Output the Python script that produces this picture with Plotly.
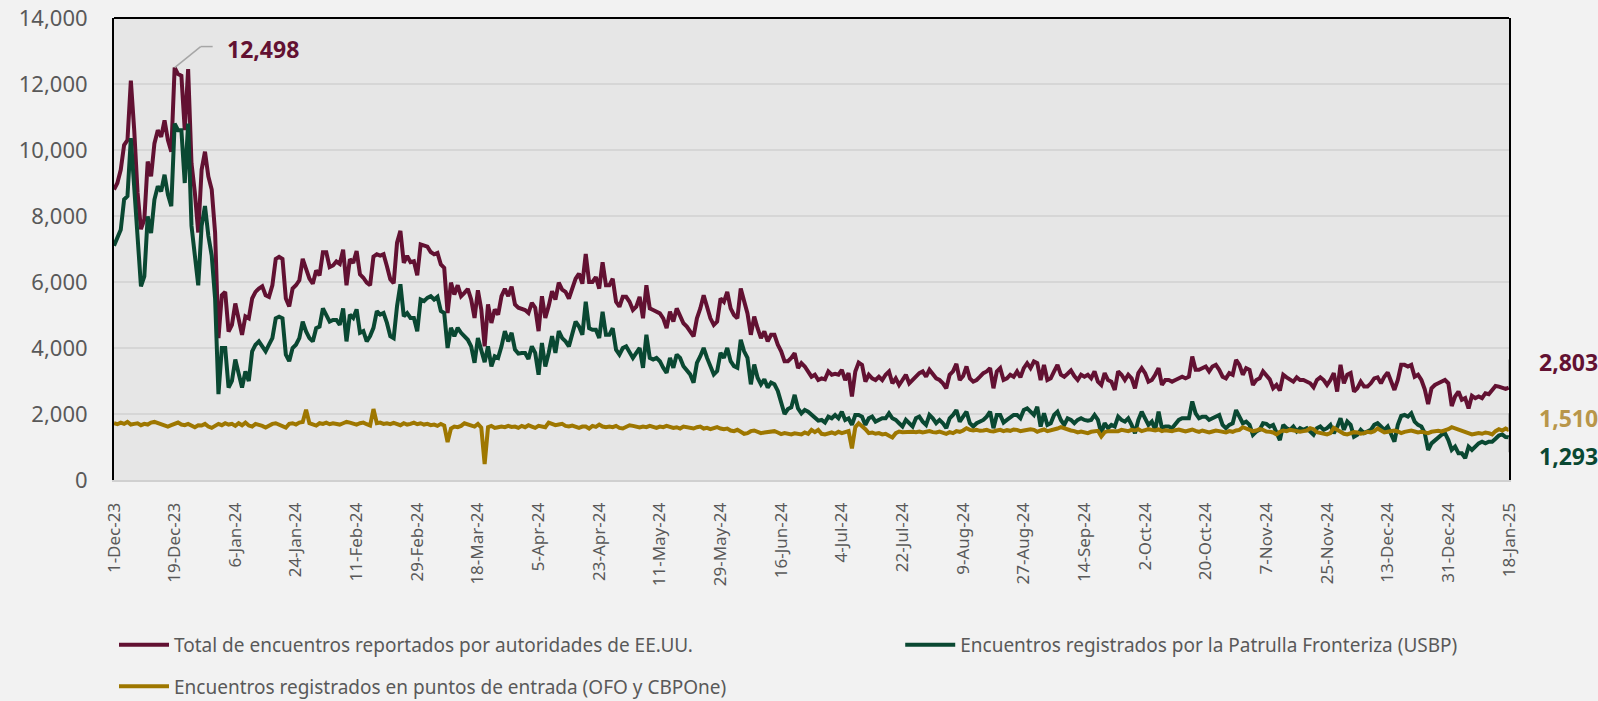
import pandas as pd
import plotly.graph_objects as go

START_DATE = "2023-12-01"

# Total de encuentros (daily, 1-Dec-23 .. 18-Jan-25)
total = [
    8800, 9000, 9400, 10150, 10300, 12100, 10600, 8700, 7600, 7900, 9650, 9200, 10200, 10600, 10400, 10900, 10300, 9950, 12498, 12300, 12250, 10600, 12450, 9600, 8700,
    7500, 9400, 9950, 9200, 8800, 7500, 4300, 5600, 5700, 4500, 4700, 5350, 4800, 4400, 4960, 4900, 5500, 5700, 5800, 5870, 5600, 5550, 5900, 6700, 6760, 6700,
    5500, 5260, 5800, 5900, 6050, 6700, 6400, 6100, 5950, 6350, 6200, 6900, 6900, 6450, 6500, 6620, 6550, 6980, 5900, 6690, 6580, 6940, 6230, 6130, 5980, 5900,
    6770, 6840, 6800, 6840, 6480, 6080, 5960, 7190, 7550, 6580, 6790, 6600, 6630, 6200, 7140, 7090, 7070, 6910, 6840, 6880, 6530, 6430, 5060, 5980, 5620, 5900,
    5570, 5670, 5790, 5470, 4910, 5750, 5170, 4050, 5320, 4760, 5170, 5010, 5570, 5790, 5570, 5860, 5320, 5220, 5170, 5150, 5060, 5370, 5220, 4510, 5570,
    4910, 5270, 5720, 5470, 5980, 5770, 5700, 5500, 5800, 6100, 6250, 5950, 6850, 6000, 6000, 6150, 5800, 6600, 5900, 5900, 6100, 5400, 5250, 5550, 5550, 5400,
    5150, 5250, 5550, 4900, 5900, 5200, 5150, 5100, 5050, 4900, 4600, 5100, 4800, 5200, 5000, 4750, 4650, 4500, 4350, 4900, 5200, 5600, 5200, 4900, 4700,
    4800, 5500, 5400, 5700, 5200, 5000, 4900, 5800, 5400, 5050, 4400, 4950, 4600, 4300, 4500, 4200, 4400, 4400, 4100, 3900, 3600, 3600, 3700,
    3840, 3390, 3540, 3440, 3290, 3130, 3190, 3030, 3080, 3050, 3290, 3190, 3220, 3190, 3340, 3030, 3240, 2530, 3290, 3560, 3490, 2980, 3190, 3080, 3030,
    3130, 3030, 3190, 3290, 2930, 3080, 2880, 3030, 3190, 2930, 3030, 3130, 3240, 3290, 3130, 3340, 3190, 3080, 3030, 2930, 2780, 3190, 3290, 3520, 3030,
    3150, 3440, 3080, 2980, 3030, 3130, 3240, 3290, 3390, 2780, 3290, 3390, 3030, 3080, 3190, 3130, 3290, 3110, 3390,
    3540, 3390, 3590, 3540, 3030, 3490, 3030, 3080, 3290, 3490, 3190, 3130, 3220, 3320, 3150, 3030, 3190, 3130, 3190, 3080,
    3290, 2980, 2880, 3240, 3030, 2980, 2730, 3290, 3190, 3030, 3190, 3080, 2780, 3240, 3390, 3240, 2980, 3030, 3190, 3390,
    2880, 3030, 3030, 2980, 3030, 3080, 3130, 3080, 3130, 3740, 3340, 3340, 3390, 3440, 3290, 3440, 3490, 3340, 3130, 3080,
    3240, 3190, 3640, 3490, 3190, 3390, 3340, 2880, 3030, 3080, 3290,
    3190, 3050, 2780, 2880, 2710, 3190, 3110, 3030, 2980, 3110, 3030, 3030, 2980, 2930, 2810, 3030, 3110, 3030, 2880, 3030,
    3240, 2680, 3490, 2930, 3190, 3240, 2680, 2780, 2980, 2830, 2830, 2930, 3080, 3110, 2930, 3130, 3260, 3030, 2730, 3030,
    3490, 3490, 3440, 3490, 3130, 3190, 3030, 2750, 2300, 2780, 2880, 2930, 2980, 3030, 2930, 2240, 2530, 2680, 2430, 2480,
    2170, 2550, 2480, 2530, 2480, 2630, 2600, 2730, 2850, 2830, 2800, 2760, 2803,
]

# Encuentros registrados por la Patrulla Fronteriza (USBP)
usbp = [
    7100, 7380, 7580, 8500, 8600, 10360, 8700, 7080, 5870, 6170, 7990, 7480, 8500, 8900, 8750, 9250, 8650, 8300, 10800, 10600, 10600, 9000, 10800, 7700, 6900,
    5900, 7700, 8300, 7400, 6800, 5500, 2600, 4000, 4000, 2800, 3000, 3650, 3200, 2800, 3290, 3000, 3900, 4100, 4200, 4050, 3900, 4100, 4300, 4900, 4950, 4900,
    3800, 3600, 4000, 4100, 4300, 4800, 4500, 4300, 4200, 4600, 4650, 5200, 5000, 4800, 4850, 4850, 4700, 5200, 4200, 5010, 4910, 5170, 4460, 4510, 4200, 4360,
    4610, 5120, 5010, 5060, 4760, 4360, 4300, 5270, 5930, 4960, 5060, 4910, 4910, 4510, 5470, 5420, 5520, 5570, 5470, 5550, 5120, 5060, 4000, 4610, 4360, 4610,
    4460, 4360, 4250, 4050, 3550, 4300, 3950, 3570, 4050, 3440, 3750, 3700, 4050, 4510, 4200, 4460, 3950, 3830, 3850, 3850, 3670, 4050, 3850, 3190, 4150,
    3440, 3850, 4360, 3850, 4510, 4300, 4200, 4050, 4400, 4800, 4650, 4400, 5400, 4600, 4550, 4550, 4300, 5100, 4400, 4400, 4600, 3950, 3800, 4000, 4050, 3850,
    3700, 3850, 4000, 3400, 4400, 3700, 3650, 3700, 3600, 3400, 3250, 3700, 3400, 3800, 3700, 3450, 3300, 3200, 2950, 3550, 3750, 4000, 3700, 3450, 3200,
    3300, 3850, 3700, 4000, 3600, 3450, 3400, 4250, 3900, 3700, 2900, 3500, 3100, 2900, 3050, 2800, 2950, 2900, 2700, 2300, 2000, 2150, 2200,
    2580, 2170, 2020, 2120, 2070, 1970, 1870, 1800, 1820, 1740, 1920, 1870, 1970, 1870, 2070, 1820, 1870, 1670, 1970, 1970,
    1920, 1670, 1870, 1920, 1770, 1820, 1870, 1870, 2020, 1870, 1820, 1720, 1620, 1820, 1720, 1620, 1870, 1920, 1770, 1670,
    1970, 1870, 1720, 1820, 1720, 1570, 1870, 1970, 2120, 1770, 1920, 2070, 1720, 1620, 1720, 1770, 1820, 1920, 2070, 1570,
    1970, 1970, 1740, 1820, 1900, 1970, 1970, 1870, 2120,
    2170, 2070, 1970, 2220, 1620, 2020, 1670, 1720, 1970, 2070, 1820, 1670, 1870, 1820, 1720, 1820, 1870, 1820, 1800, 1820,
    1970, 1820, 1420, 1720, 1570, 1670, 1620, 1920, 1820, 1770, 1870, 1670, 1420, 1820, 2070, 1870, 1670, 1770, 1520, 2070,
    1570, 1620, 1620, 1570, 1720, 1820, 1870, 1870, 1870, 2380, 2020, 1870, 1920, 1920, 1820, 1870, 1920, 1970, 1670, 1570,
    1670, 1720, 2120, 1920, 1720, 1770, 1670, 1370, 1470, 1520, 1720,
    1700, 1620, 1670, 1470, 1210, 1670, 1570, 1520, 1620, 1470, 1570, 1520, 1570, 1470, 1370, 1570, 1620, 1520, 1570, 1670,
    1420, 1600, 1870, 1520, 1770, 1670, 1310, 1370, 1520, 1420, 1470, 1520, 1670, 1720, 1620, 1520, 1620, 1370, 1160, 1670,
    1940, 1970, 1920, 2020, 1770, 1670, 1620, 1420, 910, 1110, 1210, 1310, 1370, 1420, 1210, 910, 1010, 810, 810, 660,
    1010, 910, 1010, 1110, 1160, 1110, 1160, 1160, 1250, 1350, 1380, 1300, 1293,
]

# Encuentros registrados en puntos de entrada (OFO y CBPOne)
ofo = [
    1720, 1690, 1740, 1700, 1760, 1680, 1700,
    1720, 1660, 1700, 1680, 1740, 1760, 1720,
    1690, 1650, 1620, 1660, 1700, 1740, 1680,
    1660, 1700, 1640, 1600, 1660, 1650, 1700,
    1620, 1580, 1640, 1700, 1660, 1720, 1680,
    1700, 1640, 1720, 1660, 1740, 1650, 1620,
    1700, 1680, 1640, 1590, 1650, 1700, 1720,
    1680, 1640, 1590, 1700, 1720, 1680, 1740,
    1760, 2130, 1720, 1690, 1650, 1720, 1700,
    1740, 1690, 1720, 1700, 1680, 1720, 1760,
    1740, 1700, 1680, 1720, 1740, 1690, 1650,
    2150, 1720, 1740, 1700, 1720, 1690, 1730,
    1700, 1660, 1720, 1680, 1700, 1740, 1690,
    1720, 1680, 1700, 1660, 1680, 1640, 1700,
    1650, 1150, 1560, 1620, 1600, 1640, 1720,
    1680, 1650, 1620, 1700, 1590, 480, 1600,
    1640, 1580, 1600, 1620, 1600, 1640, 1610,
    1620, 1580, 1640, 1600, 1660, 1620, 1580,
    1640, 1620, 1600, 1740, 1700, 1660, 1680,
    1700, 1640, 1620, 1650, 1600, 1580, 1620,
    1620, 1560, 1640, 1610, 1680, 1620, 1600,
    1620, 1600, 1640, 1580, 1560, 1620, 1660,
    1640, 1620, 1590, 1620, 1600, 1640, 1610,
    1580, 1620, 1600, 1640, 1620, 1580, 1600,
    1560, 1620, 1600, 1580, 1560, 1600, 1620,
    1560, 1580, 1540, 1580, 1600, 1560, 1540,
    1560, 1500, 1480, 1520, 1460, 1400, 1420,
    1480, 1500, 1460, 1420, 1440, 1450, 1470,
    1480, 1440, 1390, 1420, 1400, 1380,
    1415, 1400, 1380, 1440, 1400, 1520, 1450,
    1520, 1400, 1380, 1420, 1440, 1400, 1460,
    1420, 1450, 1480, 960, 1600, 1720, 1640,
    1540, 1420, 1440, 1400, 1420, 1380, 1400,
    1340, 1290, 1420, 1470, 1450, 1460, 1440,
    1460, 1450, 1470, 1440, 1460, 1480, 1450,
    1440, 1470, 1420, 1400, 1450, 1420, 1480,
    1460, 1500, 1570, 1520, 1500, 1520, 1490,
    1500, 1520, 1480, 1470, 1500, 1520, 1480,
    1510, 1490, 1530, 1520, 1480, 1500, 1520,
    1540, 1520, 1460, 1500, 1530, 1480, 1500,
    1520, 1560, 1600, 1560, 1520, 1500, 1480,
    1440, 1470, 1450, 1420, 1460, 1480, 1490,
    1320, 1450, 1480, 1470, 1460, 1480, 1520,
    1500, 1480, 1520, 1500, 1540, 1480, 1510,
    1540, 1520, 1500, 1530, 1480, 1510, 1500,
    1480, 1510, 1530, 1500, 1470, 1500, 1530,
    1490, 1460, 1500, 1480, 1440, 1470, 1500,
    1480, 1460, 1440, 1480, 1460, 1500, 1520,
    1600, 1560, 1520, 1480, 1500, 1540, 1520,
    1470, 1460, 1440, 1380, 1460, 1500, 1480,
    1520, 1490, 1470, 1460, 1480, 1500, 1570,
    1540, 1450, 1420, 1400, 1380, 1420, 1580,
    1520, 1450, 1400, 1380, 1420, 1450, 1440,
    1400, 1420, 1460, 1440, 1480, 1560, 1500,
    1440, 1460, 1480, 1500, 1470, 1420, 1460,
    1480, 1500, 1470, 1440, 1460, 1450, 1420,
    1460, 1480, 1490, 1470, 1500, 1540, 1600,
    1560, 1520, 1480, 1450, 1420, 1380, 1400,
    1420, 1400, 1440, 1420, 1380, 1480, 1540,
    1500, 1560, 1510,
]

series_names = [
    "Total de encuentros reportados por autoridades de EE.UU.",
    "Encuentros registrados por la Patrulla Fronteriza (USBP)",
    "Encuentros registrados en puntos de entrada (OFO y CBPOne)",
]
Y_TICKS = [0, 2000, 4000, 6000, 8000, 10000, 12000, 14000]
TICK_STEP_DAYS = 18

assert len(total) == len(usbp) == len(ofo), (len(total), len(usbp), len(ofo))

dates = pd.date_range(START_DATE, periods=len(total), freq="D")
tick_dates = list(dates[::TICK_STEP_DAYS])
tick_text = [f"{d.day}-{d.strftime('%b')}-{d.strftime('%y')}" for d in tick_dates]

RED = "#621132"
GREEN = "#0a4832"
GOLD = "#9e7700"
GOLD_TXT = "#b8964a"
GRAY_TXT = "#595959"
LEADER = "#a6a6a6"
LINE_W = 4

fig = go.Figure()
fig.add_trace(go.Scatter(x=dates, y=total, mode="lines", name=series_names[0],
                         line=dict(color=RED, width=LINE_W), legend="legend"))
fig.add_trace(go.Scatter(x=dates, y=usbp, mode="lines", name=series_names[1],
                         line=dict(color=GREEN, width=LINE_W), legend="legend3"))
fig.add_trace(go.Scatter(x=dates, y=ofo, mode="lines", name=series_names[2],
                         line=dict(color=GOLD, width=LINE_W), legend="legend2"))

legend_font = dict(family="Noto Sans", size=19, color=GRAY_TXT)


def leg(x, y):
    return dict(orientation="h", x=x, xanchor="left", y=y, yref="container", yanchor="middle",
                font=legend_font, bgcolor="rgba(0,0,0,0)", itemwidth=50)


# peak annotation
peak_i = max(range(len(total)), key=lambda i: total[i])
peak_x, peak_y = dates[peak_i], total[peak_i]
annotations = [
    dict(x=peak_x, y=peak_y, xref="x", yref="y", text=f"<b>{peak_y:,}</b>", showarrow=False,
         xanchor="left", yanchor="middle", xshift=50, yshift=19,
         font=dict(family="Noto Sans", size=23, color=RED)),
]
shapes = [
    dict(type="line", xref="x", yref="y", xsizemode="pixel", ysizemode="pixel",
         xanchor=peak_x, yanchor=peak_y, x0=0, y0=0, x1=26, y1=21,
         line=dict(color=LEADER, width=1.5)),
    dict(type="line", xref="x", yref="y", xsizemode="pixel", ysizemode="pixel",
         xanchor=peak_x, yanchor=peak_y, x0=26, y0=21, x1=38, y1=21,
         line=dict(color=LEADER, width=1.5)),
    # top border of plot area
    dict(type="line", xref="paper", yref="paper", x0=0, x1=1, y0=1, y1=1,
         line=dict(color="black", width=2)),
]

# end-of-series labels
last_x = dates[-1]
end_labels = [
    (total[-1], RED, 26, 28),
    (ofo[-1], GOLD_TXT, 12, 17),
    (usbp[-1], GREEN, -19, -15),
]
for val, col, ysh, lead in end_labels:
    annotations.append(dict(x=last_x, y=val, xref="x", yref="y", text=f"<b>{val:,}</b>",
                            showarrow=False, xanchor="left", yanchor="middle",
                            xshift=28, yshift=ysh,
                            font=dict(family="Noto Sans", size=23, color=col)))
    shapes.append(dict(type="line", xref="x", yref="y", xsizemode="pixel", ysizemode="pixel",
                       xanchor=last_x, yanchor=val, x0=0, y0=0, x1=0, y1=lead,
                       line=dict(color=LEADER, width=1.5)))
    shapes.append(dict(type="line", xref="x", yref="y", xsizemode="pixel", ysizemode="pixel",
                       xanchor=last_x, yanchor=val, x0=0, y0=lead, x1=13, y1=lead,
                       line=dict(color=LEADER, width=1.5)))

fig.update_layout(
    width=1598, height=701,
    margin=dict(l=114, r=89, t=18, b=221, autoexpand=False),
    paper_bgcolor="#f2f2f2",
    plot_bgcolor="#e6e6e6",
    showlegend=True,
    legend=leg(0.0, 0.080),
    legend3=leg(0.5636, 0.080),
    legend2=leg(0.0, 0.021),
    xaxis=dict(type="date", range=[dates[0], dates[-1]], tickmode="array",
               tickvals=tick_dates, ticktext=tick_text, tickangle=-90,
               tickfont=dict(family="Noto Sans", size=17, color=GRAY_TXT),
               showgrid=False, showline=True, linecolor="#d0d0d0", linewidth=2,
               zeroline=False, ticks="", ticklabelstandoff=14, automargin=False),
    yaxis=dict(range=[0, 14000], tickmode="array", tickvals=Y_TICKS, tickformat=",d",
               tickfont=dict(family="Noto Sans", size=22, color=GRAY_TXT),
               showgrid=True, gridcolor="#d6d6d6", gridwidth=2,
               showline=True, linecolor="black", linewidth=2, mirror=True,
               zeroline=False, ticks="", ticklabelstandoff=20, automargin=False),
    annotations=annotations,
    shapes=shapes,
)

fig.write_html("out.html", config={"displayModeBar": False},
               post_script="document.body.style.margin='0';document.body.style.overflow='hidden';")
